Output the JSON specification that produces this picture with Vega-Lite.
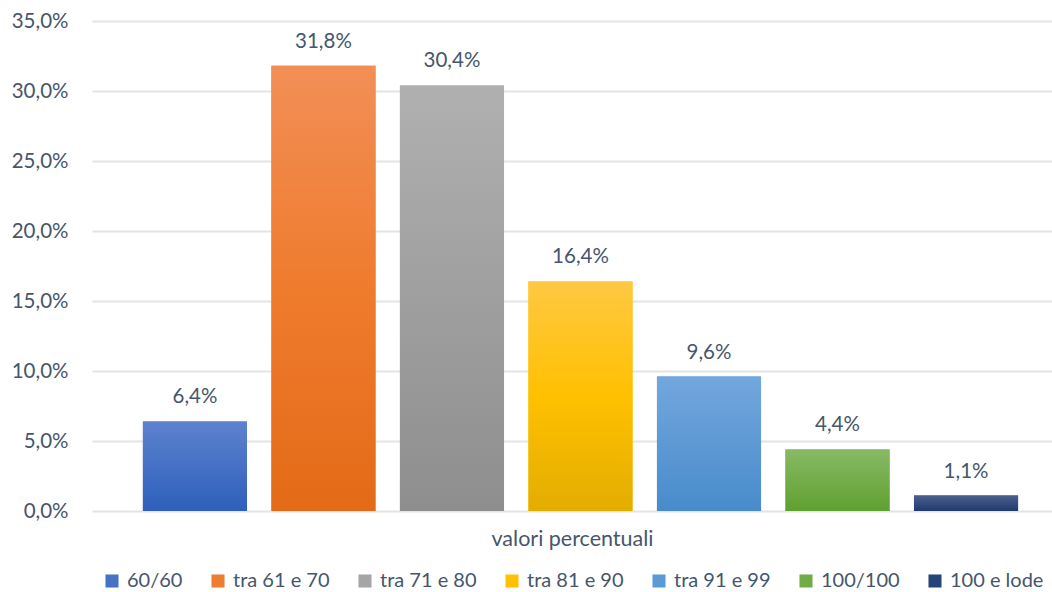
{
  "$schema": "https://vega.github.io/schema/vega-lite/v6.json",
  "width": 960,
  "height": 490,
  "autosize": {"type": "none"},
  "padding": {"left": 92, "top": 21, "right": 0, "bottom": 81},
  "background": "#ffffff",
  "config": {
    "locale": {"number": {"decimal": ",", "thousands": ".", "grouping": [3], "currency": ["€", ""]}},
    "font": "Lato",
    "view": {"stroke": null}
  },
  "data": {
    "values": [
      {"fascia": "60/60", "valore": 0.064},
      {"fascia": " tra 61 e 70", "valore": 0.318},
      {"fascia": "tra 71 e 80", "valore": 0.304},
      {"fascia": "tra 81 e 90", "valore": 0.164},
      {"fascia": "tra 91 e 99", "valore": 0.096},
      {"fascia": "100/100", "valore": 0.044},
      {"fascia": "100 e lode", "valore": 0.011}
    ]
  },
  "encoding": {
    "x": {
      "field": "fascia",
      "type": "nominal",
      "sort": null,
      "scale": {"paddingInner": 0.19, "paddingOuter": 0.33, "align": 0.6},
      "axis": {
        "title": "valori percentuali",
        "labels": false,
        "ticks": false,
        "domain": false,
        "titleFont": "Lato",
        "titleFontSize": 21.5,
        "titleFontWeight": "normal",
        "titleColor": "#46566c",
        "titlePadding": 17
      }
    },
    "y": {
      "field": "valore",
      "type": "quantitative",
      "scale": {"domain": [0, 0.35], "nice": false},
      "axis": {
        "title": null,
        "values": [0, 0.05, 0.1, 0.15, 0.2, 0.25, 0.3, 0.35],
        "format": ".1%",
        "ticks": false,
        "domain": false,
        "labelFont": "Lato",
        "labelFontSize": 20.5,
        "labelColor": "#46566c",
        "labelPadding": 24,
        "gridColor": "#e1e4e8",
        "gridWidth": 2
      }
    }
  },
  "layer": [
    {
      "mark": {"type": "bar"},
      "encoding": {
        "color": {
          "field": "fascia",
          "type": "nominal",
          "sort": null,
          "scale": {"range": ["#4472c4", "#ed7d31", "#a5a5a5", "#ffc000", "#5b9bd5", "#70ad47", "#264478"]},
          "legend": {
            "title": null,
            "orient": "none",
            "direction": "horizontal",
            "legendX": 10,
            "legendY": 550,
            "symbolType": "square",
            "symbolSize": 170,
            "symbolStrokeWidth": 0,
            "symbolOpacity": 1,
            "labelFont": "Lato",
            "labelFontSize": 20,
            "labelColor": "#46566c",
            "labelOffset": 5,
            "columnPadding": 25
          }
        }
      }
    },
    {
      "transform": [{"filter": "datum.fascia === '60/60'"}],
      "mark": {"type": "bar", "color": {"gradient": "linear", "x1": 0, "y1": 0, "x2": 0, "y2": 1, "stops": [{"offset": 0, "color": "#5d82cf"}, {"offset": 1, "color": "#2e5fbb"}]}}
    },
    {
      "transform": [{"filter": "datum.fascia === ' tra 61 e 70'"}],
      "mark": {"type": "bar", "color": {"gradient": "linear", "x1": 0, "y1": 0, "x2": 0, "y2": 1, "stops": [{"offset": 0, "color": "#f28f56"}, {"offset": 0.5, "color": "#ef7b2e"}, {"offset": 1, "color": "#e36b17"}]}}
    },
    {
      "transform": [{"filter": "datum.fascia === 'tra 71 e 80'"}],
      "mark": {"type": "bar", "color": {"gradient": "linear", "x1": 0, "y1": 0, "x2": 0, "y2": 1, "stops": [{"offset": 0, "color": "#b0b0b0"}, {"offset": 1, "color": "#8e8e8e"}]}}
    },
    {
      "transform": [{"filter": "datum.fascia === 'tra 81 e 90'"}],
      "mark": {"type": "bar", "color": {"gradient": "linear", "x1": 0, "y1": 0, "x2": 0, "y2": 1, "stops": [{"offset": 0, "color": "#ffc843"}, {"offset": 0.5, "color": "#ffc000"}, {"offset": 1, "color": "#e3ad00"}]}}
    },
    {
      "transform": [{"filter": "datum.fascia === 'tra 91 e 99'"}],
      "mark": {"type": "bar", "color": {"gradient": "linear", "x1": 0, "y1": 0, "x2": 0, "y2": 1, "stops": [{"offset": 0, "color": "#73a7de"}, {"offset": 1, "color": "#488bcb"}]}}
    },
    {
      "transform": [{"filter": "datum.fascia === '100/100'"}],
      "mark": {"type": "bar", "color": {"gradient": "linear", "x1": 0, "y1": 0, "x2": 0, "y2": 1, "stops": [{"offset": 0, "color": "#87ba65"}, {"offset": 1, "color": "#60a030"}]}}
    },
    {
      "transform": [{"filter": "datum.fascia === '100 e lode'"}],
      "mark": {"type": "bar", "color": {"gradient": "linear", "x1": 0, "y1": 0, "x2": 0, "y2": 1, "stops": [{"offset": 0, "color": "#4a5f8b"}, {"offset": 1, "color": "#1f3a72"}]}}
    },
    {
      "mark": {"type": "text", "font": "Lato", "fontSize": 20.5, "color": "#46566c", "baseline": "alphabetic", "dy": -18},
      "encoding": {
        "text": {"field": "valore", "type": "quantitative", "format": ".1%"}
      }
    }
  ]
}
